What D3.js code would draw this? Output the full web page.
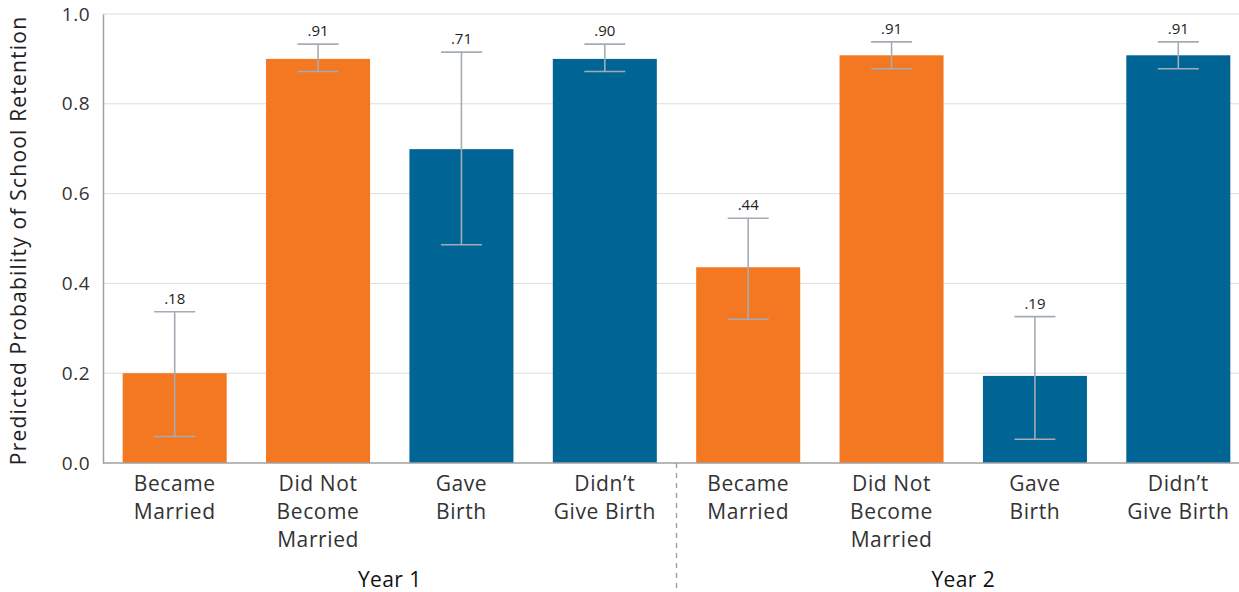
<!DOCTYPE html>
<html><head><meta charset="utf-8">
<script src="https://cdn.jsdelivr.net/npm/d3@7"></script>
<style>
html,body{margin:0;padding:0;background:#fff;}
svg{display:block;font-family:"Open Sans","Noto Sans",sans-serif;}
</style></head>
<body>
<svg id="chart" width="1239" height="592"></svg>
<script>
const categories = [
  ["Became","Married"], ["Did Not","Become","Married"], ["Gave","Birth"], ["Didn\u2019t","Give Birth"],
  ["Became","Married"], ["Did Not","Become","Married"], ["Gave","Birth"], ["Didn\u2019t","Give Birth"]
];
const groups = ["Year 1","Year 2"];
const groupOf = [0,0,0,0,1,1,1,1];
const values = [0.200, 0.900, 0.699, 0.900, 0.436, 0.908, 0.194, 0.908];
const errLow = [0.059, 0.872, 0.486, 0.872, 0.320, 0.878, 0.053, 0.878];
const errHigh = [0.337, 0.933, 0.915, 0.933, 0.545, 0.938, 0.326, 0.938];
const valueLabels = [".18", ".91", ".71", ".90", ".44", ".91", ".19", ".91"];
const colorKey = ["m","m","b","b","m","m","b","b"];
const yTicks = [0, 0.2, 0.4, 0.6, 0.8, 1.0];
const yTickLabels = ["0.0","0.2","0.4","0.6","0.8","1.0"];
const yTitle = "Predicted Probability of School Retention";

const FONT = "'Open Sans','Noto Sans',sans-serif";
const svg = d3.select("#chart");
const x0 = 103, x1 = 1250, yTop = 14, yBot = 463;
const idx = d3.range(values.length);
const x = d3.scaleBand().domain(idx).range([x0, x1]).paddingInner(0.2746).paddingOuter(0.1373);
const step = (x1 - x0) / values.length;
const y = d3.scaleLinear().domain([0, 1]).range([yBot, yTop]);
const color = d3.scaleOrdinal().domain(["m","b"]).range(["#F47721","#006494"]);

// gridlines
svg.append("g").selectAll("line").data(yTicks.filter(t => t > 0)).join("line")
  .attr("x1", x0).attr("x2", 1239).attr("y1", d => y(d)).attr("y2", d => y(d))
  .attr("stroke", "#dcdcdc").attr("stroke-width", 1);

// y axis
const yAxis = d3.axisLeft(y).tickValues(yTicks).tickFormat((d,i) => yTickLabels[i]).tickSize(0).tickPadding(13);
const gy = svg.append("g").attr("transform", `translate(${x0},0)`).call(yAxis);
gy.select(".domain").attr("stroke", "#a0a0a0").attr("stroke-width", 1.5);
gy.selectAll("text").attr("font-size", 19).attr("fill", "#333").attr("font-family", FONT).attr("letter-spacing", 0.5);

// bars
svg.append("g").selectAll("rect").data(idx).join("rect")
  .attr("x", i => x(i)).attr("width", x.bandwidth())
  .attr("y", i => y(values[i])).attr("height", i => y(0) - y(values[i]))
  .attr("fill", i => color(colorKey[i]));

// x baseline
svg.append("line").attr("x1", x0).attr("x2", 1239).attr("y1", yBot).attr("y2", yBot)
  .attr("stroke", "#a0a0a0").attr("stroke-width", 1.5);

// error bars
const eb = svg.append("g").attr("stroke", "#a3acb4").attr("stroke-width", 1.6);
idx.forEach(i => {
  const cx = x(i) + x.bandwidth() / 2;
  eb.append("line").attr("x1", cx).attr("x2", cx).attr("y1", y(errHigh[i])).attr("y2", y(errLow[i]));
  [errHigh[i], errLow[i]].forEach(v => {
    eb.append("line").attr("x1", cx - 20.5).attr("x2", cx + 20.5).attr("y1", y(v)).attr("y2", y(v));
  });
});

// value labels
svg.append("g").selectAll("text").data(idx).join("text")
  .attr("x", i => x(i) + x.bandwidth() / 2).attr("y", i => y(errHigh[i]) - 8)
  .attr("text-anchor", "middle").attr("font-size", 15).attr("fill", "#222")
  .text(i => valueLabels[i]);

// category labels
const cl = svg.append("g").attr("font-size", 21).attr("fill", "#333").attr("text-anchor", "middle")
  .attr("letter-spacing", 0.6);
idx.forEach(i => {
  const t = cl.append("text").attr("x", x(i) + x.bandwidth() / 2).attr("y", 491);
  categories[i].forEach((ln, k) => {
    t.append("tspan").attr("x", x(i) + x.bandwidth() / 2).attr("dy", k === 0 ? 0 : 27.8).text(ln);
  });
});

// group divider
svg.append("line").attr("x1", x0 + 4 * step).attr("x2", x0 + 4 * step).attr("y1", yBot).attr("y2", 592)
  .attr("stroke", "#999").attr("stroke-width", 1.3).attr("stroke-dasharray", "5,5");

// group labels
groups.forEach((g, gi) => {
  const members = idx.filter(i => groupOf[i] === gi);
  const cx = d3.mean(members, i => x(i) + x.bandwidth() / 2);
  svg.append("text").attr("x", cx).attr("y", 587).attr("text-anchor", "middle")
    .attr("font-size", 21).attr("fill", "#111").attr("letter-spacing", 0.4).text(g);
});

// y title
svg.append("text").attr("transform", `translate(26,${(yTop + yBot) / 2 + 2}) rotate(-90)`)
  .attr("text-anchor", "middle").attr("font-size", 21).attr("letter-spacing", 1.2)
  .attr("fill", "#222").text(yTitle);
</script>
</body></html>
